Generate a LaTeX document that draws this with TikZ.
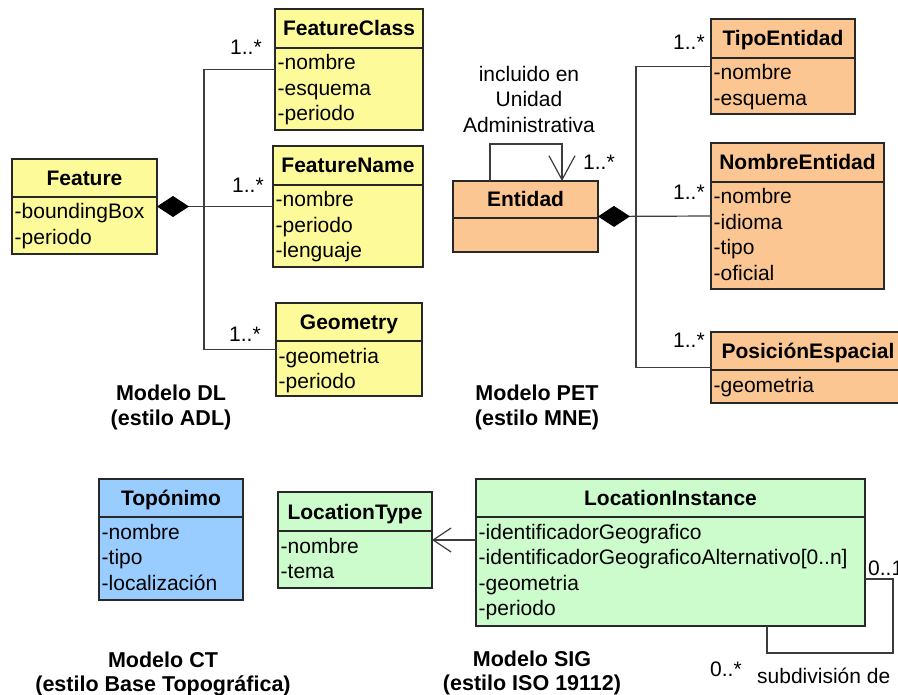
\documentclass[tikz,border=0pt]{standalone}
\usepackage{fontspec}
\setmainfont{Liberation Sans}
\usetikzlibrary{arrows.meta,calc}
\definecolor{cyellow}{RGB}{253,251,153}
\definecolor{corange}{RGB}{251,198,146}
\definecolor{cblue}{RGB}{153,204,255}
\definecolor{cgreen}{RGB}{204,252,204}
\definecolor{cline}{RGB}{40,40,40}
\definecolor{cconn}{RGB}{60,60,60}
\tikzset{
  classbox/.style={draw=cline, line width=1.8pt, rectangle, inner sep=0pt, outer sep=0pt},
  divider/.style={draw=cline, line width=1.6pt},
  titletext/.style={font=\fontsize{21}{25}\selectfont\bfseries, inner sep=0pt, anchor=base},
  attrtext/.style={font=\fontsize{21}{25}\selectfont, inner sep=0pt, anchor=base west},
  labeltext/.style={font=\fontsize{21}{25}\selectfont, inner sep=0pt, anchor=base west},
  notetext/.style={font=\fontsize{21}{25}\selectfont, inner sep=0pt, anchor=base},
  modeltext/.style={font=\fontsize{21.5}{25}\selectfont\bfseries, inner sep=0pt, anchor=base},
  conn/.style={draw=cconn, line width=1.2pt},
  comptip/.style={{Diamond[length=32pt,width=21pt,color=black]}-},
}
% box: name, x1, y1, x2, y2, ydiv, colour, title
\newcommand\umlhead[8]{%
  \node[classbox, fill=#7, anchor=north west, minimum width={#4-#2}, minimum height={#5-#3}] (#1) at (#2,#3) {};
  \draw[divider] (#2,#6) -- (#4,#6);
  \node[titletext] (#1-t) at ({(#2+#4)/2},{(#3+#6)/2+7.5}) {#8};
}
% attributes: name, x1, ydiv, list
\newcommand\umlattrs[4]{%
  \foreach \t [count=\i] in {#4} {
    \node[attrtext] (#1-a\i) at ({#2+2.5},{#3+22+25.5*(\i-1)}) {\t};
  }
}
\begin{document}
\begin{tikzpicture}[x=1pt,y=-1pt]
\fill[white] (0,0) rectangle (898,695);
\useasboundingbox (0,0) rectangle (898,695);

% ---------- Modelo DL ----------
\umlhead{fc}{275}{9}{423}{130}{48}{cyellow}{FeatureClass}
\umlattrs{fc}{275}{48}{-nombre,-esquema,-periodo}
\umlhead{fn}{273}{146}{423}{267}{185}{cyellow}{FeatureName}
\umlattrs{fn}{273}{185}{-nombre,-periodo,-lenguaje}
\umlhead{fe}{12}{159}{157}{254}{197}{cyellow}{Feature}
\umlattrs{fe}{12}{197}{-boundingBox,-periodo}
\umlhead{ge}{276}{303}{422}{396}{341}{cyellow}{Geometry}
\umlattrs{ge}{276}{341}{-geometria,-periodo}

\coordinate (dlbus) at (204,207);
\draw[conn,comptip] (fe.east) -- (fn.west);
\draw[conn] (fc.west) -| (dlbus) |- (ge.west);
\node[labeltext] (m1) at (230,55) {1..*};
\node[labeltext] (m2) at (232,193) {1..*};
\node[labeltext] (m3) at (229,342) {1..*};
\node[modeltext] (dl1) at (171,400) {Modelo DL};
\node[modeltext] (dl2) at (171,425) {(estilo ADL)};

% ---------- Modelo PET ----------
\umlhead{te}{711}{19}{855}{114}{58}{corange}{TipoEntidad}
\umlattrs{te}{711}{58}{-nombre,-esquema}
\umlhead{ne}{711}{143}{884}{289}{182}{corange}{NombreEntidad}
\umlattrs{ne}{711}{182}{-nombre,-idioma,-tipo,-oficial}
\umlhead{pe}{711}{332}{905}{403}{370}{corange}{PosiciónEspacial}
\umlattrs{pe}{711}{370}{-geometria}
\umlhead{en}{453}{181}{598}{252}{218}{corange}{Entidad}

\coordinate (petbus) at (636,217);
\draw[conn,comptip] (en.east) -- (ne.west);
\draw[conn] (te.west) -| (petbus) |- (pe.west);
\draw[conn,-{Straight Barb[length=24pt,width=26pt]}] ([xshift=37pt]en.north west) -- ++(0,-37) -| ([xshift=109pt]en.north west);
\node[labeltext] (m4) at (673,50) {1..*};
\node[labeltext] (m5) at (673,200) {1..*};
\node[labeltext] (m6) at (673,348) {1..*};
\node[labeltext] (m7) at (583,170) {1..*};
\node[notetext] (inc1) at (529,82) {incluido en};
\node[notetext] (inc2) at (529,107) {Unidad};
\node[notetext] (inc3) at (529,133) {Administrativa};
\node[modeltext] (pet1) at (537,400) {Modelo PET};
\node[modeltext] (pet2) at (537,425) {(estilo MNE)};

% ---------- Modelo CT ----------
\umlhead{to}{99}{479}{243}{600}{517}{cblue}{Topónimo}
\umlattrs{to}{99}{517}{-nombre,-tipo,-localización}
\node[modeltext] (ct1) at (163,667) {Modelo CT};
\node[modeltext] (ct2) at (163,691) {(estilo Base Topográfica)};

% ---------- Modelo SIG ----------
\umlhead{lt}{278}{492}{432}{588}{531}{cgreen}{LocationType}
\umlattrs{lt}{278}{531}{-nombre,-tema}
\umlhead{li}{476}{479}{865}{626}{517}{cgreen}{LocationInstance}
\umlattrs{li}{476}{517}{-identificadorGeografico,-identificadorGeograficoAlternativo[0..n],-geometria,-periodo}

\draw[conn,-{Straight Barb[length=18pt,width=24pt]}] (li.west |- lt.east) -- (lt.east);
\draw[conn] ([yshift=47pt]li.south east) -- ++(28,0) -- ++(0,74) -| ([xshift=-98pt]li.south east);
\node[labeltext] (m8) at (868,575) {0..1};
\node[labeltext] (m9) at (710,676) {0..*};
\node[labeltext] (sub) at (757,683) {subdivisión de};
\node[modeltext] (sig1) at (532,666) {Modelo SIG};
\node[modeltext] (sig2) at (532,690) {(estilo ISO 19112)};
\end{tikzpicture}
\end{document}
